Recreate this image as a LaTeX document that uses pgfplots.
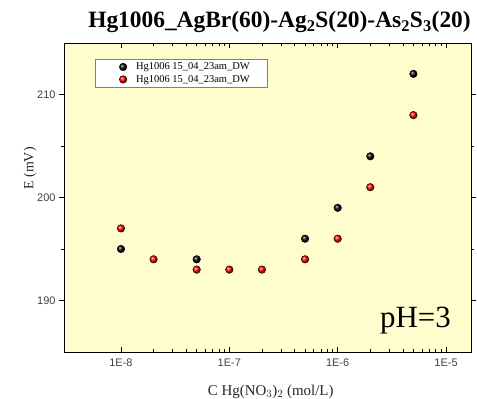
\documentclass[border=0pt]{standalone}
\usepackage{pgfplots}
\pgfplotsset{compat=1.18}
\usepackage{fontspec}
\setmainfont{Liberation Serif}
\newfontfamily\arial{Liberation Sans}
\definecolor{bgy}{RGB}{255,253,206}
\begin{document}
\begin{tikzpicture}
\path[use as bounding box] (-64bp,-47bp) rectangle (413bp,352bp);
\begin{axis}[
  at={(0,0)}, anchor=south west,
  scale only axis, width=407bp, height=309bp,
  xmode=log, xmin=2.98e-9, xmax=1.7e-5,
  ymin=185, ymax=215,
  axis background/.style={fill=bgy},
  xtick={1e-8,1e-7,1e-6,1e-5},
  xticklabels={1E-8,1E-7,1E-6,1E-5},
  ytick={190,200,210},
  yticklabels={190,200,210},
  minor ytick={195,205},
  xtick align=inside, ytick align=outside,
  major tick length=5bp, minor tick length=3bp,
  tick style={black, line width=0.5pt},
  ticklabel style={font=\arial\fontsize{11}{11}\selectfont, text=black!75},
  xticklabel style={yshift=-3bp},
  axis line style={line width=0.6pt},
  xlabel={C Hg(NO$_3$)$_2$ (mol/L)},
  ylabel={E (mV)},
  xlabel style={font=\fontsize{15}{15}\selectfont, text=black!85, at={(rel axis cs:0.508,0)}, anchor=base, yshift=-43bp},
  ylabel style={font=\fontsize{14}{14}\selectfont, text=black!85, at={(rel axis cs:0,0.594)}, anchor=center, yshift=34bp},
  legend style={at={(0.076,0.948)}, anchor=north west, draw=gray, fill=white,
    font=\fontsize{10.5}{11}\selectfont, text=black, row sep=0pt, inner xsep=15bp, inner ysep=1.5pt},
  legend image code/.code={\path[draw=none,fill=none] (0bp,0bp) -- (24bp,0bp); \draw[#1] plot coordinates {(13bp,0bp)};},
  legend cell align=left,
  clip=false,
]
\addplot[only marks, mark=ball, mark size=3.8bp, mark options={ball color=black}] coordinates {
 (1e-8,195) (5e-8,194) (5e-7,196) (1e-6,199) (2e-6,204) (5e-6,212)};
\addlegendentry{Hg1006 15\_04\_23am\_DW}
\addplot[only marks, mark=ball, mark size=3.8bp, mark options={ball color=red}] coordinates {
 (1e-8,197) (2e-8,194) (5e-8,193) (1e-7,193) (2e-7,193) (5e-7,194) (1e-6,196) (2e-6,201) (5e-6,208)};
\addlegendentry{Hg1006 15\_04\_23am\_DW}
\end{axis}
\node[font=\bfseries\fontsize{23.5}{24}\selectfont, anchor=base] at (215.5bp,324bp) {Hg1006\_AgBr(60)-Ag$_\mathbf{2}$S(20)-As$_\mathbf{2}$S$_\mathbf{3}$(20)};
\node[font=\fontsize{31}{31}\selectfont, anchor=base west, inner sep=0pt] at (316bp,25bp) {pH=3};
\end{tikzpicture}
\end{document}
